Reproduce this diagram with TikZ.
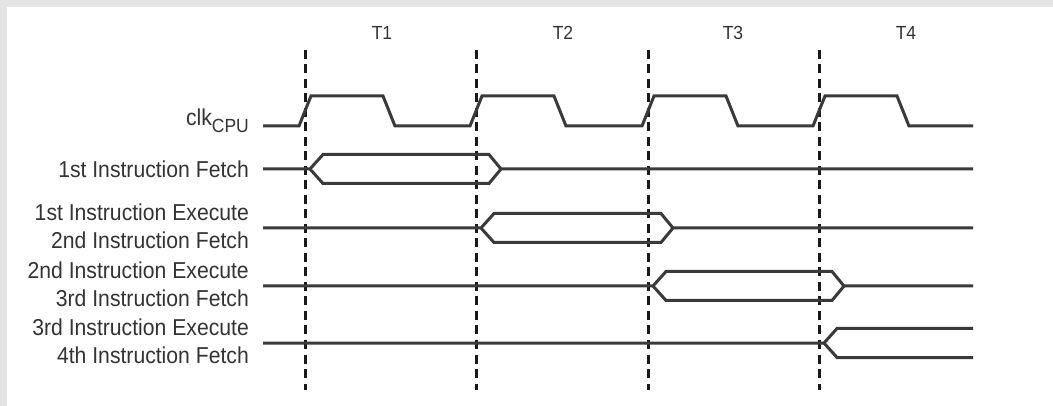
\documentclass[tikz,border=0pt]{standalone}
\usepackage{fontspec}
\setmainfont{Liberation Sans}[FakeStretch=0.92]
\usepackage{tikz}

\definecolor{wavegray}{HTML}{3A3A3A}
\definecolor{textgray}{HTML}{333333}
\definecolor{framegray}{HTML}{E4E4E4}

\begin{document}
\begin{tikzpicture}[x=1pt, y=-1pt,
        label/.style = {anchor=east, align=right, text=textgray, inner sep=0pt,
                        font=\fontsize{23}{28}\selectfont},
        period/.style = {text=textgray, inner sep=0pt, font=\fontsize{19}{19}\selectfont},
        wave/.style = {draw=wavegray, line width=3pt, line join=miter},
        edge/.style = {draw=black!90, line width=3pt, dash pattern=on 9pt off 5.5pt}]
        \useasboundingbox (0,0) rectangle (1053,406);
        \fill[framegray] (0,0) rectangle (1053,406);
        \fill[white] (7,7) rectangle (1053,406);

        \node[period] (t1) at (382,33) {T1};
        \node[period] (t2) at (563,33) {T2};
        \node[period] (t3) at (733,33) {T3};
        \node[period] (t4) at (906,33) {T4};

        \node[label] (clk) at (249,121) {clk\raisebox{-0.55ex}{\fontsize{19}{19}\selectfont CPU}};
        \node[label] (fetch1) at (249,169) {1st Instruction Fetch};
        \node[label] (fetch2) at (249,226) {1st Instruction Execute\\2nd Instruction Fetch};
        \node[label] (fetch3) at (249,284) {2nd Instruction Execute\\3rd Instruction Fetch};
        \node[label] (fetch4) at (249,341) {3rd Instruction Execute\\4th Instruction Fetch};

        \draw[edge] (305,50) -- (305,390);
        \draw[edge] (476,50) -- (476,390);
        \draw[edge] (648,50) -- (648,390);
        \draw[edge] (819,50) -- (819,390);

        \draw[wave] (263,126) -- (299,126) -- (311,96) -- (383,96) -- (395,126)
                    -- (470,126) -- (482,96) -- (554,96) -- (566,126)
                    -- (642,126) -- (654,96) -- (726,96) -- (738,126)
                    -- (813,126) -- (825,96) -- (897,96) -- (909,126) -- (973,126);

        \draw[wave] (263,169) -- (310,169) -- (323,154.5) -- (489,154.5) -- (501,169) -- (973,169);
        \draw[wave] (310,169) -- (323,183.5) -- (489,183.5) -- (501,169);

        \draw[wave] (263,228) -- (481,228) -- (494,213.5) -- (661,213.5) -- (673,228) -- (973,228);
        \draw[wave] (481,228) -- (494,242.5) -- (661,242.5) -- (673,228);

        \draw[wave] (263,286) -- (653,286) -- (666,271.5) -- (832,271.5) -- (844,286) -- (973,286);
        \draw[wave] (653,286) -- (666,300.5) -- (832,300.5) -- (844,286);

        \draw[wave] (263,343) -- (824,343) -- (837,328.5) -- (973,328.5);
        \draw[wave] (824,343) -- (837,357.5) -- (973,357.5);
\end{tikzpicture}
\end{document}
